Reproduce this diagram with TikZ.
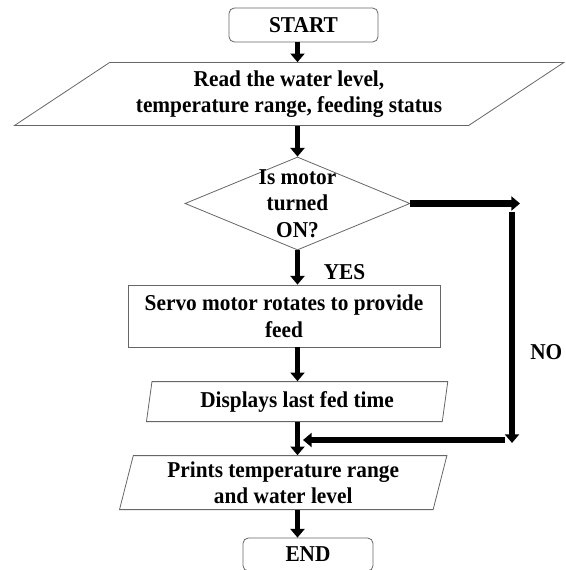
\documentclass[tikz,border=0pt]{standalone}
\usepackage{fontspec}
\setmainfont{Liberation Serif}[FakeStretch=0.94]
\usetikzlibrary{shapes.geometric, arrows.meta, calc}

\tikzset{
  flowtext/.style={font=\fontsize{17}{20}\selectfont\bfseries, align=center},
  outline/.style={draw=black!60, line width=0.6pt},
  terminal/.style={flowtext, outline, rounded corners=4pt, inner sep=0pt},
  io/.style={flowtext, outline, trapezium, trapezium stretches=true, inner sep=0pt},
  process/.style={flowtext, outline, inner sep=0pt},
  decision/.style={outline, diamond, inner sep=0pt},
  flow/.style={line width=3.9pt, -{Triangle[length=6.5pt, width=10.5pt]}},
  noline/.style={line width=4.6pt, -{Triangle[length=6.5pt, width=10.5pt]}},
}

\begin{document}
\begin{tikzpicture}[x=0.75pt, y=-0.75pt]
\useasboundingbox (0,0) rectangle (565,570);

%Blocks
\node[terminal, minimum width=111.75pt, minimum height=25.5pt] (start) at (303.5,25) {START};
\node[io, trapezium left angle=30.3, trapezium right angle=149.7,
      minimum width=413.25pt, minimum height=47.25pt, anchor=bottom left corner] (read) at (13,126)
      {Read the water level,\\temperature range, feeding status};
\node[decision, minimum width=168.75pt, minimum height=69.75pt,
      label={[flowtext]center:{Is motor\\turned\\ON?}}] (motor) at (297.5,203.5) {};
\node[process, minimum width=234pt, minimum height=46.5pt] (servo) at (284,316)
      {Servo motor rotates to provide\\feed};
\node[io, trapezium left angle=80, trapezium right angle=100,
      minimum width=226.5pt, minimum height=30pt, anchor=bottom left corner] (display) at (146,422)
      {Displays last fed time};
\node[io, trapezium left angle=76, trapezium right angle=104,
      minimum width=246pt, minimum height=40.5pt, anchor=bottom left corner] (prints) at (119,510)
      {Prints temperature range\\and water level};
\node[terminal, minimum width=97.5pt, minimum height=24.75pt] (end) at (308,554.5) {END};

%Labels
\node[flowtext, inner sep=0pt] (yes) at (344.5,272.5) {YES};
\node[flowtext, inner sep=0pt, anchor=west] (no) at (530,352) {NO};

%Main flow
\draw[flow] (start.south -| motor.north) -- (read.north -| motor.north);
\draw[flow] (read.south -| motor.north) -- (motor.north);
\draw[flow] (motor.south) -- (motor.south |- servo.north);
\draw[flow] (servo.south -| motor.south) -- (display.north -| motor.south);
\draw[flow] (display.south -| motor.south) -- (prints.north -| motor.south);
\draw[flow] (prints.south -| motor.south) -- (end.north -| motor.south);

%NO branch
\coordinate (noright) at (520,204);
\coordinate (notop) at (512,212);
\coordinate (nobottom) at (512,443);
\coordinate (nojoin) at (505,440);
\coordinate (merge) at (303,440);
\draw[noline] (motor.east) -- (motor.east -| noright);
\draw[noline] (notop) -- (nobottom);
\draw[noline] (nojoin) -- (merge);
\end{tikzpicture}
\end{document}
